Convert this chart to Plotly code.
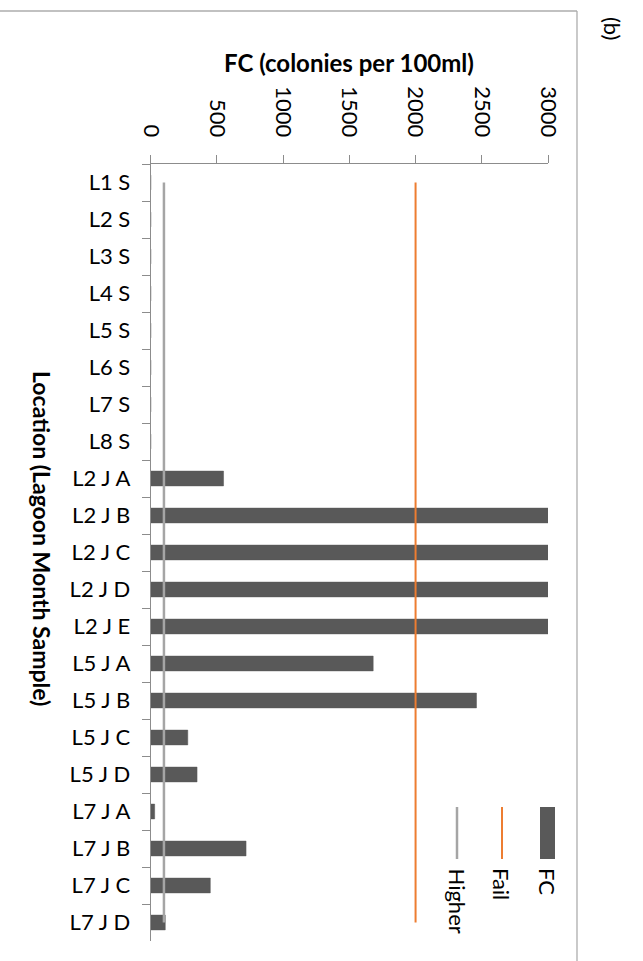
import plotly.graph_objects as go

W, H = 643, 961

categories = ["L1 S", "L2 S", "L3 S", "L4 S", "L5 S", "L6 S", "L7 S", "L8 S",
              "L2 J A", "L2 J B", "L2 J C", "L2 J D", "L2 J E",
              "L5 J A", "L5 J B", "L5 J C", "L5 J D",
              "L7 J A", "L7 J B", "L7 J C", "L7 J D"]
fc_values = [0, 0, 0, 0, 0, 0, 0, 0,
             550, 3000, 3000, 3000, 3000,
             1680, 2460, 280, 350,
             30, 720, 450, 110]
fail_values = [2000] * len(categories)
higher_values = [100] * len(categories)
value_ticks = [0, 500, 1000, 1500, 2000, 2500, 3000]

FONT = "Lato, Carlito, 'Liberation Sans', sans-serif"
AXIS_GRAY = "#8C8C8C"
BAR = "#595959"
ORANGE = "#ED7D31"
GRAY = "#A5A5A5"


def px(x):
    return x / W


def py(y):
    return 1 - y / H


fig = go.Figure()
fig.add_trace(go.Bar(x=fc_values, y=categories, orientation="h", width=0.4,
                     marker=dict(color=BAR, line=dict(color=BAR, width=0.5)),
                     name="FC", showlegend=False))
fig.add_trace(go.Scatter(x=fail_values, y=categories, mode="lines",
                         line=dict(color=ORANGE, width=2), name="Fail", showlegend=False))
fig.add_trace(go.Scatter(x=higher_values, y=categories, mode="lines",
                         line=dict(color=GRAY, width=2.5), name="Higher", showlegend=False))

x0, x1 = 150.7, 548.0
y0, y1 = 164.0, 941.0

fig.update_layout(
    width=W, height=H,
    margin=dict(l=0, r=0, t=0, b=0, pad=0),
    paper_bgcolor="white", plot_bgcolor="white",
    font=dict(family=FONT, color="#000000"),
    bargap=0.6,
    xaxis=dict(domain=[px(x0), px(x1)], range=[0, 3000], side="top",
               tickvals=value_ticks, ticktext=[str(v) for v in value_ticks],
               tickangle=90, tickfont=dict(size=22, family=FONT),
               ticklabelstandoff=10,
               ticks="outside", ticklen=8, tickcolor=AXIS_GRAY, tickwidth=1,
               showline=True, linecolor=AXIS_GRAY, linewidth=1,
               showgrid=False, zeroline=False, automargin=False,
               anchor="y", fixedrange=True),
    yaxis=dict(domain=[py(y1), py(y0)], type="category",
               categoryorder="array", categoryarray=categories,
               range=[len(categories) - 0.5, -0.5], autorange=False,
               tickfont=dict(size=22, family=FONT),
               ticklabelstandoff=15,
               ticks="outside", ticklen=8, tickcolor=AXIS_GRAY, tickwidth=1,
               tickson="boundaries",
               showline=True, linecolor=AXIS_GRAY, linewidth=1,
               showgrid=False, zeroline=False, automargin=False,
               anchor="x", fixedrange=True),
)

annotations = [
    dict(text="<b>FC (colonies per 100ml)</b>", x=px((x0 + x1) / 2), y=py(63),
         xref="paper", yref="paper", showarrow=False, xanchor="center", yanchor="middle",
         font=dict(size=24, family=FONT)),
    dict(text="<b>Location (Lagoon Month Sample)</b>", x=px(42), y=py(538),
         xref="paper", yref="paper", showarrow=False, xanchor="center", yanchor="middle",
         textangle=90, font=dict(size=23, family=FONT)),
    dict(text="(b)", x=px(612), y=py(28), xref="paper", yref="paper", showarrow=False,
         xanchor="center", yanchor="middle", textangle=90, font=dict(size=22, family=FONT)),
    dict(text="FC", x=px(547.5), y=py(866), xref="paper", yref="paper", showarrow=False,
         xanchor="center", yanchor="top", textangle=90, font=dict(size=22, family=FONT)),
    dict(text="Fail", x=px(502), y=py(866), xref="paper", yref="paper", showarrow=False,
         xanchor="center", yanchor="top", textangle=90, font=dict(size=22, family=FONT)),
    dict(text="Higher", x=px(457), y=py(866), xref="paper", yref="paper", showarrow=False,
         xanchor="center", yanchor="top", textangle=90, font=dict(size=22, family=FONT)),
]
fig.update_layout(annotations=annotations)

shapes = [
    dict(type="line", xref="paper", yref="paper", x0=0, x1=px(577), y0=py(11), y1=py(11),
         line=dict(color="#ADADAD", width=1.3)),
    dict(type="line", xref="paper", yref="paper", x0=px(577), x1=px(577), y0=py(11), y1=0,
         line=dict(color="#ADADAD", width=1.3)),
    dict(type="rect", xref="paper", yref="paper", x0=px(540), x1=px(555), y0=py(859), y1=py(807),
         fillcolor=BAR, line=dict(width=0)),
    dict(type="line", xref="paper", yref="paper", x0=px(502), x1=px(502), y0=py(859), y1=py(807),
         line=dict(color=ORANGE, width=2)),
    dict(type="line", xref="paper", yref="paper", x0=px(457), x1=px(457), y0=py(859), y1=py(807),
         line=dict(color=GRAY, width=2.5)),
]
fig.update_layout(shapes=shapes)

fig.write_html("out.html", config={"displayModeBar": False},
               post_script="document.body.style.margin='0px';")
